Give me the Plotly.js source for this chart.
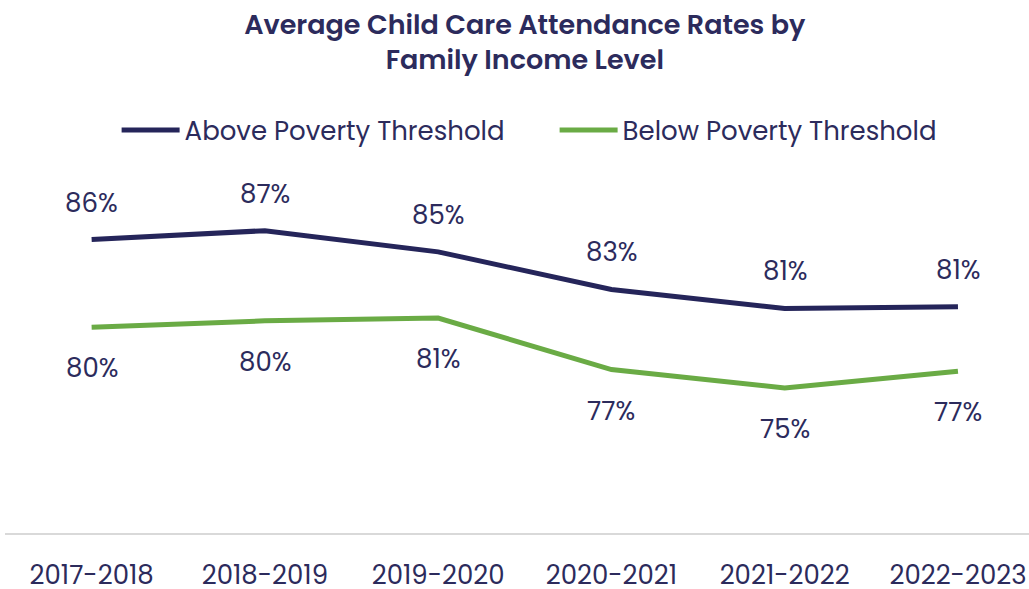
<!DOCTYPE html>
<html>
<head>
<meta charset="utf-8">
<script src="https://cdn.plot.ly/plotly-3.0.1.min.js"></script>
<style>html,body{margin:0;padding:0;background:#fff;}#chart{width:1029px;height:589px;}</style>
</head>
<body>
<div id="chart"></div>
<script>
const years = ["2017-2018","2018-2019","2019-2020","2020-2021","2021-2022","2022-2023"];
const aboveValues = [86.38, 87.03, 85.47, 82.71, 81.31, 81.43];
const belowValues = [79.93, 80.40, 80.60, 76.82, 75.47, 76.70];
const aboveLabels = ["86%","87%","85%","83%","81%","81%"];
const belowLabels = ["80%","80%","81%","77%","75%","77%"];
const seriesNames = ["Above Poverty Threshold","Below Poverty Threshold"];

const navy = "#25255a";
const green = "#6aab45";
const textColor = "#2c2b5c";
const fontFam = "Poppins, 'DejaVu Sans', sans-serif";

const traces = [
  {x: years, y: aboveValues, name: seriesNames[0], type: "scatter", mode: "lines",
   line: {color: navy, width: 5}, hoverinfo: "skip"},
  {x: years, y: belowValues, name: seriesNames[1], type: "scatter", mode: "lines",
   line: {color: green, width: 5}, hoverinfo: "skip"}
];

const annotations = [];
years.forEach((yr, i) => {
  annotations.push({x: i, y: aboveValues[i], xref: "x", yref: "y", text: aboveLabels[i],
    showarrow: false, yshift: 37, font: {family: fontFam, size: 26, color: textColor}});
  annotations.push({x: i, y: belowValues[i], xref: "x", yref: "y", text: belowLabels[i],
    showarrow: false, yshift: -41, font: {family: fontFam, size: 26, color: textColor}});
});

const layout = {
  width: 1029, height: 589,
  paper_bgcolor: "#fff", plot_bgcolor: "#fff",
  margin: {l: 5, r: 0, t: 193, b: 56},
  font: {family: fontFam, color: textColor},
  title: {text: "Average Child Care Attendance Rates by<br>Family Income Level",
    x: 0.51, xanchor: "center", y: 0.942, yanchor: "middle", yref: "container",
    font: {family: fontFam, size: 27, color: textColor, weight: 600}},
  showlegend: true,
  legend: {orientation: "h", x: 0.109, xanchor: "left", y: 0.779, yref: "container",
    yanchor: "middle", itemwidth: 58, entrywidth: 365, entrywidthmode: "pixels",
    font: {family: fontFam, size: 26, color: textColor},
    bgcolor: "rgba(0,0,0,0)", traceorder: "normal", itemclick: false},
  xaxis: {type: "category", range: [-0.5, 5.41], showgrid: false, zeroline: false,
    showline: true, linecolor: "#d9d9d9", linewidth: 2, ticks: "",
    ticklabelstandoff: 18, tickfont: {family: fontFam, size: 26, color: textColor}, fixedrange: true},
  yaxis: {range: [64.8, 89.8], visible: false, showgrid: false, zeroline: false, fixedrange: true},
  annotations: annotations
};

Plotly.newPlot("chart", traces, layout, {displayModeBar: false, staticPlot: true});
</script>
</body>
</html>
